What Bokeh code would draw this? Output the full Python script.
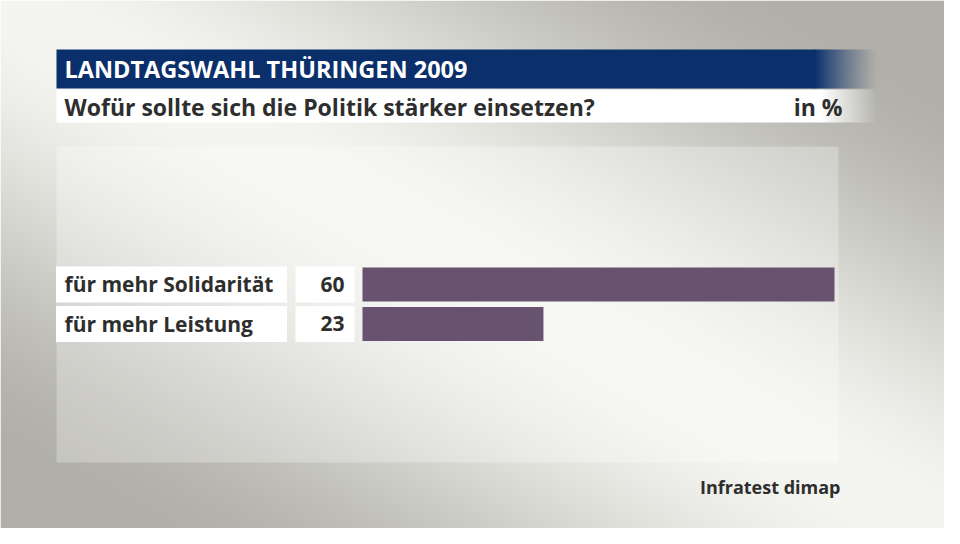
import numpy as np
from bokeh.plotting import figure
from bokeh.models import Range1d, ColumnDataSource
from bokeh.core.properties import value
from bokeh.embed import file_html
from bokeh.resources import INLINE

# ---- data ----
title = "LANDTAGSWAHL THÜRINGEN 2009"
subtitle = "Wofür sollte sich die Politik stärker einsetzen?"
unit_label = "in %"
source_label = "Infratest dimap"
categories = ["für mehr Solidarität", "für mehr Leistung"]
values = [60, 23]

# ---- layout / style ----
W, H = 944, 528
FONT = value("Open Sans")
TXT = "#2e2e2e"
BAR = "#67536f"
BLUE_RGB = (10, 47, 107)
BLUE = "#0a2f6b"

# value axis: 0 at pixel 362, 60 at pixel 834
X0, PPU = 362.0, 472.0 / 60.0

def py(y):
    return 544 - y

def tb(y, size):
    # baseline compensation for svg alphabetic baseline
    return py(y) + 0.38 * size

def rgba_img(rgb_arr, alpha_arr):
    h, w = alpha_arr.shape
    a = np.zeros((h, w, 4), dtype=np.uint8)
    a[..., :3] = np.clip(rgb_arr, 0, 255).astype(np.uint8)
    a[..., 3] = np.clip(alpha_arr, 0, 255).astype(np.uint8)
    return a.view(np.uint32).reshape(h, w)

p = figure(width=W, height=H, output_backend="svg", toolbar_location=None,
           x_range=Range1d(-X0 / PPU, (W - X0) / PPU), y_range=Range1d(16, 544),
           min_border=0, x_axis_location=None, y_axis_location=None)
p.extra_x_ranges = {"px": Range1d(0, W)}
p.grid.visible = False
p.outline_line_color = None
p.background_fill_color = None
p.border_fill_color = "#b0afa8"

# ---- background gradient image ----
Xs = 0.5 + np.arange(W)
Ys = 527.5 - np.arange(H)
X, Y = np.meshgrid(Xs, Ys)
d = -0.493 * X + 0.870 * Y
t = np.clip(np.abs(d) / 400.0, 0, 1)
s = t * t * (3 - 2 * t)
light = np.array([245, 245, 241], dtype=float)
dark = np.array([176, 175, 168], dtype=float)
rgb = light[None, None, :] * (1 - s[..., None]) + dark[None, None, :] * s[..., None]
p.image_rgba(image=[rgba_img(rgb, np.full((H, W), 255.0))], x=0, y=16, dw=W, dh=H,
             x_range_name="px")

# lighter chart panel
p.quad(left=56, right=838, top=py(146), bottom=py(462), fill_color="white",
       fill_alpha=0.28, line_color=None, x_range_name="px")

# ---- header bars with fade on the right ----
p.quad(left=56, right=815, top=py(49), bottom=py(88), fill_color=BLUE,
       line_color=None, x_range_name="px")
p.quad(left=56, right=821, top=py(89), bottom=py(122), fill_color="white",
       line_color=None, x_range_name="px")

fw_b = 63
ab = (1 - (np.arange(fw_b) + 0.5) / fw_b) ** 1.2 * 255
blue_rgb = np.tile(np.array(BLUE_RGB, dtype=float), (1, fw_b, 1))
p.image_rgba(image=[rgba_img(blue_rgb, ab[None, :])], x=814, y=py(88), dw=fw_b, dh=39,
             x_range_name="px")
fw_w = 57
aw = (1 - (np.arange(fw_w) + 0.5) / fw_w) * 255
white_rgb = np.full((1, fw_w, 3), 255.0)
p.image_rgba(image=[rgba_img(white_rgb, aw[None, :])], x=820, y=py(122), dw=fw_w, dh=33,
             x_range_name="px")

p.text(x=[64], y=[tb(77, 23.5)], text=[title], text_font=FONT, text_font_style="bold",
       text_font_size="23.5px", text_color="white", text_baseline="alphabetic",
       x_range_name="px")
p.text(x=[64], y=[tb(115, 23)], text=[subtitle], text_font=FONT, text_font_style="bold",
       text_font_size="23px", text_color=TXT, text_baseline="alphabetic",
       x_range_name="px")
p.text(x=[842], y=[tb(115, 23)], text=[unit_label], text_font=FONT, text_font_style="bold",
       text_font_size="23px", text_color=TXT, text_baseline="alphabetic",
       text_align="right", x_range_name="px")

# ---- rows ----
LS = 21
row_c = [py(284 + i * 39.5) for i in range(len(categories))]
src = ColumnDataSource(dict(cat=categories, val=values, y=row_c,
                            lab=[str(v) for v in values],
                            ty=[yc - 7.5 + 0.38 * LS for yc in row_c]))
p.rect(x=171, y="y", width=231, height=36, fill_color="white", line_color=None,
       source=src, x_range_name="px")
p.rect(x=324.5, y="y", width=59, height=36, fill_color="white", line_color=None,
       source=src, x_range_name="px")
p.hbar(y="y", left=0, right="val", height=34, fill_color=BAR, line_color=None, source=src)
p.text(x=64, y="ty", text="cat", text_font=FONT, text_font_style="bold",
       text_font_size=f"{LS}px", text_color=TXT, text_baseline="alphabetic",
       source=src, x_range_name="px")
p.text(x=344, y="ty", text="lab", text_font=FONT, text_font_style="bold",
       text_font_size=f"{LS}px", text_color=TXT, text_baseline="alphabetic",
       text_align="right", source=src, x_range_name="px")

p.text(x=[840], y=[tb(493, 18)], text=[source_label], text_font=FONT, text_font_style="bold",
       text_font_size="18px", text_color=TXT, text_baseline="alphabetic",
       text_align="right", x_range_name="px")

open("out.html", "w").write(file_html(p, INLINE))
